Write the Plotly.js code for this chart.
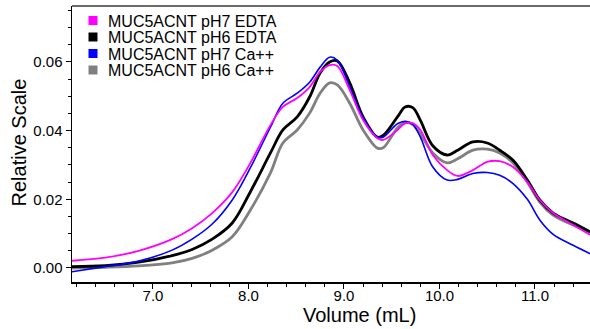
<!DOCTYPE html>
<html>
<head>
<meta charset="utf-8">
<script src="https://cdn.plot.ly/plotly-3.0.1.min.js"></script>
<style>html,body{margin:0;padding:0;background:#fff;}#chart{width:590px;height:329px;}</style>
</head>
<body>
<div id="chart"></div>
<script>
// Volume (mL) sample positions shared by all series
const volume = [6.15, 6.50, 6.85, 7.20, 7.41, 7.62, 7.83, 8.02, 8.23, 8.36, 8.51, 8.64, 8.75, 8.85, 8.93, 9.06, 9.20, 9.35, 9.41, 9.56, 9.64, 9.72, 9.80, 9.93, 10.08, 10.19, 10.35, 10.50, 10.63, 10.77, 10.92, 11.05, 11.19, 11.40, 11.58];

const seriesNames = ["MUC5ACNT pH7 EDTA", "MUC5ACNT pH6 EDTA", "MUC5ACNT pH7 Ca++", "MUC5ACNT pH6 Ca++"];

const pH7EDTA = [0.0021, 0.0030, 0.0050, 0.0084, 0.0116, 0.0160, 0.0221, 0.0306, 0.0416, 0.0469, 0.0495, 0.0527, 0.0571, 0.0591, 0.0588, 0.0518, 0.0431, 0.0378, 0.0373, 0.0402, 0.0421, 0.0422, 0.0402, 0.0329, 0.0285, 0.0268, 0.0285, 0.0309, 0.0311, 0.0294, 0.0250, 0.0198, 0.0160, 0.0125, 0.0096];

const pH6EDTA = [0.0004, 0.0007, 0.0017, 0.0036, 0.0054, 0.0084, 0.0131, 0.0222, 0.0335, 0.0402, 0.0440, 0.0498, 0.0568, 0.0600, 0.0603, 0.0539, 0.0440, 0.0381, 0.0386, 0.0440, 0.0469, 0.0467, 0.0430, 0.0356, 0.0329, 0.0343, 0.0367, 0.0364, 0.0343, 0.0314, 0.0256, 0.0198, 0.0160, 0.0131, 0.0105];

const pH7Ca = [-0.0011, 0.0004, 0.0020, 0.0052, 0.0084, 0.0128, 0.0198, 0.0292, 0.0410, 0.0480, 0.0509, 0.0541, 0.0585, 0.0614, 0.0605, 0.0527, 0.0437, 0.0381, 0.0381, 0.0420, 0.0427, 0.0418, 0.0381, 0.0294, 0.0256, 0.0258, 0.0275, 0.0278, 0.0270, 0.0246, 0.0200, 0.0140, 0.0098, 0.0066, 0.0041];

const pH6Ca = [0.0000, 0.0002, 0.0006, 0.0015, 0.0028, 0.0052, 0.0091, 0.0169, 0.0277, 0.0364, 0.0402, 0.0451, 0.0509, 0.0539, 0.0533, 0.0480, 0.0402, 0.0349, 0.0350, 0.0408, 0.0424, 0.0418, 0.0390, 0.0335, 0.0306, 0.0318, 0.0343, 0.0346, 0.0335, 0.0306, 0.0250, 0.0192, 0.0154, 0.0125, 0.0105];

const xTickVals = [7, 8, 9, 10, 11];
const xTickText = ["7.0", "8.0", "9.0", "10.0", "11.0"];
const yTickVals = [0, 0.02, 0.04, 0.06];
const yTickText = ["0.00", "0.02", "0.04", "0.06"];
const xTitle = "Volume (mL)";
const yTitle = "Relative Scale";

const seriesValues = [pH7EDTA, pH6EDTA, pH7Ca, pH6Ca];
const colors = ["#ff00ff", "#000000", "#0000ff", "#808080"];
const widths = [1.8, 2.8, 1.6, 2.8];
const drawOrder = [3, 1, 2, 0];

const FONT = 'Arial, "Liberation Sans", sans-serif';

const traces = drawOrder.map(i => ({
  type: "scatter", mode: "lines", name: seriesNames[i],
  x: volume, y: seriesValues[i],
  line: {color: colors[i], width: widths[i], shape: "spline", smoothing: 1.0},
  showlegend: false, hoverinfo: "skip"
}));

// legend drawn as annotations + square shapes (pixel-matched row spacing)
const W = 518, H = 276, L = 72, T = 6;
const px2x = p => (p - L) / W;
const py2y = p => 1 - (p - T) / H;
const rowY = [20.5, 37, 53.5, 70];
const annotations = seriesNames.map((n, i) => ({
  xref: "paper", yref: "paper", x: px2x(106), y: py2y(rowY[i] + 0.5),
  xanchor: "left", yanchor: "middle", showarrow: false,
  text: n, font: {family: FONT, size: 16, color: "#000"}
}));
// axis titles placed as in the reference (x title sits right of centre)
annotations.push({
  xref: "paper", yref: "paper", x: px2x(359), y: py2y(315),
  xanchor: "center", yanchor: "middle", showarrow: false, borderpad: 0,
  text: xTitle, font: {family: FONT, size: 20, color: "#000"}
});
annotations.push({
  xref: "paper", yref: "paper", x: px2x(18.5), y: py2y(143),
  xanchor: "center", yanchor: "middle", showarrow: false, textangle: -90,
  text: yTitle, font: {family: FONT, size: 20, color: "#000"}
});
const shapes = seriesNames.map((n, i) => ({
  type: "rect", xref: "paper", yref: "paper",
  x0: px2x(88.5), x1: px2x(97.5), y0: py2y(rowY[i] - 4.5), y1: py2y(rowY[i] + 4.5),
  fillcolor: colors[i], line: {width: 0}
}));
shapes.push({type: "line", xref: "paper", yref: "paper", x0: 0, x1: 1, y0: 1, y1: 1,
  line: {color: "#3a3a3a", width: 1.5}});

const layout = {
  width: 590, height: 329,
  margin: {l: 72, r: 0, t: 6, b: 47, pad: 0},
  paper_bgcolor: "#fff", plot_bgcolor: "#fff",
  font: {family: FONT, size: 15, color: "#000"},
  showlegend: false,
  xaxis: {
    range: [6.152, 11.576], tickvals: xTickVals, ticktext: xTickText,
    ticks: "outside", ticklen: 5, tickwidth: 1, tickcolor: "#000",
    ticklabelstandoff: -6,
    minor: {dtick: 0.2, tick0: 7, ticks: "outside", ticklen: 3, tickwidth: 1, tickcolor: "#000"},
    showline: true, linecolor: "#000", linewidth: 1.5, showgrid: false, zeroline: false,
    tickfont: {family: FONT, size: 15, color: "#000"},
    automargin: false
  },
  yaxis: {
    range: [-0.00408, 0.0763], tickvals: yTickVals, ticktext: yTickText,
    ticks: "outside", ticklen: 5, tickwidth: 1, tickcolor: "#000",
    minor: {dtick: 0.005, tick0: 0, ticks: "outside", ticklen: 3, tickwidth: 1, tickcolor: "#000"},
    showline: true, linecolor: "#000", linewidth: 1.5, showgrid: false, zeroline: false,
    tickfont: {family: FONT, size: 15, color: "#000"},
    automargin: false
  },
  annotations: annotations,
  shapes: shapes
};

Plotly.newPlot("chart", traces, layout, {staticPlot: true, displayModeBar: false});
</script>
</body>
</html>
